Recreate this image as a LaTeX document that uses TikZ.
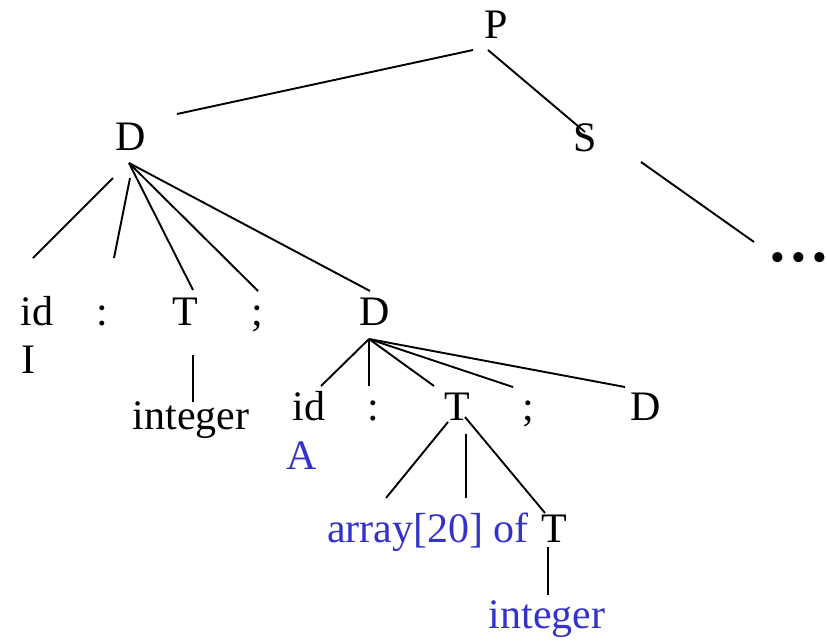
\documentclass[tikz,border=0pt]{standalone}
\usepackage{fontspec}
\setmainfont{Liberation Serif}
\definecolor{termblue}{RGB}{51,51,204}
\begin{document}
\begin{tikzpicture}[x=1pt,y=-1pt,
  sym/.style={inner sep=0pt,anchor=base,font=\fontsize{42}{50}\selectfont},
  val/.style={sym,text=termblue},
  edge/.style={line width=1.9pt,black}]
\useasboundingbox (0,0) rectangle (827,640);

% symbols of the parse tree
\node[sym] (P)  at (496,38)  {P};
\node[sym] (D1) at (131,150) {D};
\node[sym] (S)  at (585,151) {S};
\node[inner sep=0pt,anchor=center,font=\fontsize{42}{50}\selectfont] (more) at (799,262) {•\kern6pt•\kern6pt•};

\node[sym] (id1)  at (37,325)  {id};
\node[sym] (col1) at (102,325) {:};
\node[sym] (T1)   at (185,325) {T};
\node[sym] (sem1) at (257,325) {;};
\node[sym] (D2)   at (375,325) {D};
\node[sym] (I)    at (28,373)  {I};
\node[sym] (int1) at (191,429) {integer};

\node[sym] (id2)  at (309,420) {id};
\node[sym] (col2) at (373,420) {:};
\node[sym] (T2)   at (457,420) {T};
\node[sym] (sem2) at (528,420) {;};
\node[sym] (D3)   at (646,420) {D};
\node[val] (A)    at (302,469) {A};
\node[val] (arr)  at (428,542) {array[20] of};
\node[sym] (T3)   at (554,542) {T};
\node[val] (int2) at (547,628) {integer};

% end points of the branches
\coordinate (P-l)   at (473,50);  \coordinate (D1-t)  at (177,114);
\coordinate (P-r)   at (488,50);  \coordinate (S-t)   at (585,132);
\coordinate (S-b)   at (641,162); \coordinate (more-t) at (754,242);
\coordinate (D1-a)  at (113,178); \coordinate (id1-t) at (33,258);
\coordinate (D1-b)  at (130,178); \coordinate (col1-t) at (114,258);
\coordinate (D1-c)  at (129,163);
\coordinate (T1-t)  at (193,290); \coordinate (sem1-t) at (258,291);
\coordinate (D2-t)  at (370,291);
\coordinate (T1-b)  at (193,355); \coordinate (int1-t) at (193,402);
\coordinate (D2-c)  at (369,339);
\coordinate (id2-t) at (321,386); \coordinate (col2-t) at (369,386);
\coordinate (T2-t)  at (434,386); \coordinate (sem2-t) at (513,387);
\coordinate (D3-t)  at (625,387);
\coordinate (T2-a)  at (448,422); \coordinate (arr-t) at (386,498);
\coordinate (T2-b)  at (466,434); \coordinate (arr-m) at (466,498);
\coordinate (T2-c)  at (465,417); \coordinate (T3-t)  at (545,513);
\coordinate (T3-b)  at (548,547); \coordinate (int2-t) at (548,595);

% branches
\draw[edge] (P-l) -- (D1-t);
\draw[edge] (P-r) -- (S-t);
\draw[edge] (S-b) -- (more-t);
\draw[edge] (D1-a) -- (id1-t);
\draw[edge] (D1-b) -- (col1-t);
\draw[edge] (D1-c) -- (T1-t);
\draw[edge] (D1-c) -- (sem1-t);
\draw[edge] (D1-c) -- (D2-t);
\draw[edge] (T1-b) -- (int1-t);
\draw[edge] (D2-c) -- (id2-t);
\draw[edge] (D2-c) -- (col2-t);
\draw[edge] (D2-c) -- (T2-t);
\draw[edge] (D2-c) -- (sem2-t);
\draw[edge] (D2-c) -- (D3-t);
\draw[edge] (T2-a) -- (arr-t);
\draw[edge] (T2-b) -- (arr-m);
\draw[edge] (T2-c) -- (T3-t);
\draw[edge] (T3-b) -- (int2-t);
\end{tikzpicture}
\end{document}
